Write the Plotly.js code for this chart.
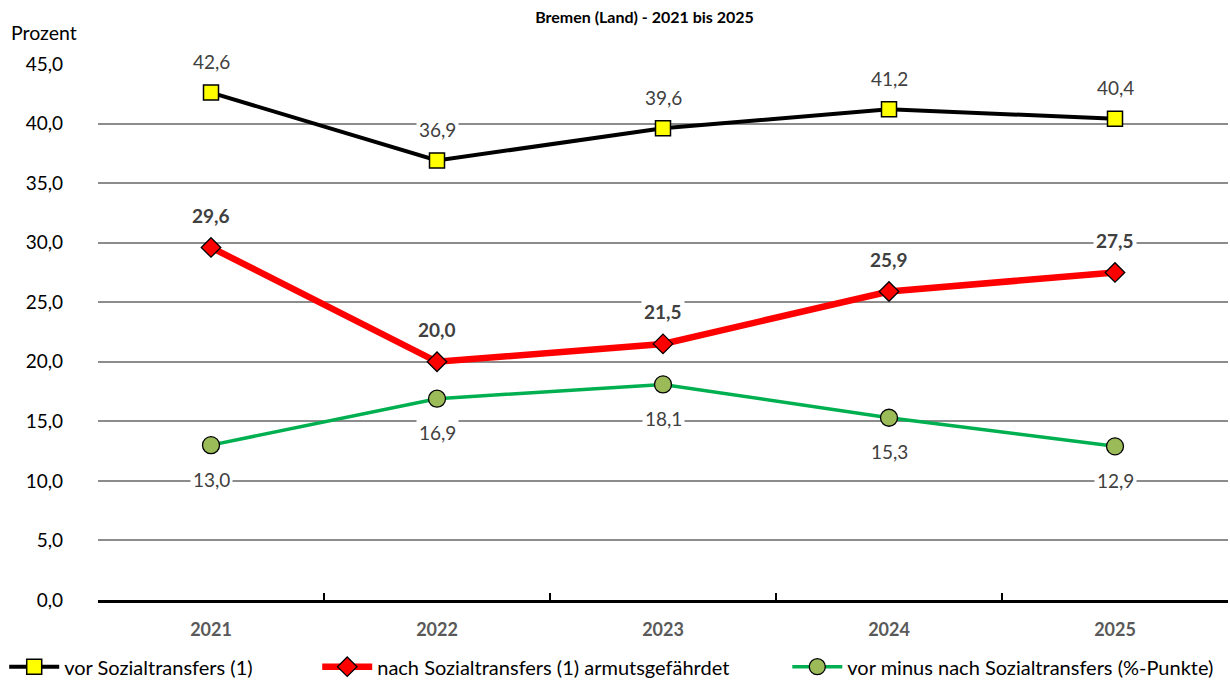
<!DOCTYPE html>
<html><head><meta charset="utf-8">
<script src="https://cdn.plot.ly/plotly-3.0.1.min.js"></script>
<style>body{margin:0;padding:0;background:#fff}#chart{width:1230px;height:681px}</style>
</head><body><div id="chart"></div>
<script>
const years = ['2021','2022','2023','2024','2025'];
const vorSozial = [42.6, 36.9, 39.6, 41.2, 40.4];
const nachSozial = [29.6, 20.0, 21.5, 25.9, 27.5];
const differenz = [13.0, 16.9, 18.1, 15.3, 12.9];
const seriesNames = ['vor Sozialtransfers (1)', 'nach Sozialtransfers (1) armutsgefährdet', 'vor minus nach Sozialtransfers (%-Punkte)'];
const yTicks = [0, 5, 10, 15, 20, 25, 30, 35, 40, 45];

const FONT = 'Lato, "Open Sans", sans-serif';
const fmt = v => v.toFixed(1).replace('.', ',');

const traces = [
  {x: years, y: vorSozial, name: seriesNames[0], type: 'scatter', mode: 'lines+markers', legend: 'legend',
   line: {color: '#000000', width: 4},
   marker: {symbol: 'square', size: 15, color: '#FFFF00', line: {color: '#000000', width: 1.5}}},
  {x: years, y: nachSozial, name: seriesNames[1], type: 'scatter', mode: 'lines+markers', legend: 'legend2',
   line: {color: '#FF0000', width: 6.5},
   marker: {symbol: 'diamond', size: 15, color: '#FF0000', line: {color: '#000000', width: 1.3}}},
  {x: years, y: differenz, name: seriesNames[2], type: 'scatter', mode: 'lines+markers', legend: 'legend3',
   line: {color: '#00B050', width: 3.5},
   marker: {symbol: 'circle', size: 17, color: '#9BBB59', line: {color: '#000000', width: 1.3}}}
];

const annotations = [];
years.forEach((yr, i) => {
  annotations.push({x: i, y: vorSozial[i], text: fmt(vorSozial[i]), showarrow: false, yshift: 31,
    bgcolor: '#ffffff', borderpad: 2, font: {family: FONT, size: 19, color: '#404040'}});
  annotations.push({x: i, y: nachSozial[i], text: '<b>' + fmt(nachSozial[i]) + '</b>', showarrow: false, yshift: 32,
    bgcolor: '#ffffff', borderpad: 2, font: {family: FONT, size: 19, color: '#404040'}});
  annotations.push({x: i, y: differenz[i], text: fmt(differenz[i]), showarrow: false, yshift: -34,
    bgcolor: '#ffffff', borderpad: 2, font: {family: FONT, size: 19, color: '#404040'}});
});
annotations.push({xref: 'paper', yref: 'paper', x: -0.079, y: 1.0, xanchor: 'left', yanchor: 'bottom', yshift: 18,
  text: 'Prozent', showarrow: false, font: {family: FONT, size: 19.5, color: '#000000'}});

const legendBase = {orientation: 'h', xref: 'paper', yref: 'container', yanchor: 'middle', y: 0.021,
  itemwidth: 50, bgcolor: 'rgba(0,0,0,0)', font: {family: FONT, size: 20, color: '#000000'}};

const layout = {
  width: 1230, height: 681,
  margin: {l: 98, r: 2, t: 64, b: 81},
  paper_bgcolor: '#ffffff', plot_bgcolor: '#ffffff',
  separators: ',.',
  showlegend: true,
  title: {text: '<b>Bremen (Land) - 2021 bis 2025</b>', x: 0.524, xanchor: 'center', y: 0.975, yanchor: 'middle',
    font: {family: FONT, size: 16, color: '#000000'}},
  xaxis: {type: 'category', range: [-0.5, 4.5], showgrid: false, zeroline: false,
    showline: true, linecolor: '#000000', linewidth: 3,
    ticks: 'inside', tickson: 'boundaries', ticklen: 7, tickwidth: 2, tickcolor: '#000000',
    tickfont: {family: FONT, size: 18, color: '#595959', weight: 'bold'}, ticklabelstandoff: 11},
  yaxis: {range: [0, 45], tickvals: yTicks, tickformat: '.1f', showgrid: true, gridcolor: '#8c8c8c', gridwidth: 1.5,
    zeroline: false, showline: false, ticks: '', ticklabelstandoff: 34,
    tickfont: {family: FONT, size: 19, color: '#000000'}},
  legend: Object.assign({}, legendBase, {x: -0.083, xanchor: 'left'}),
  legend2: Object.assign({}, legendBase, {x: 0.194, xanchor: 'left'}),
  legend3: Object.assign({}, legendBase, {x: 0.61, xanchor: 'left'}),
  annotations: annotations
};

Plotly.newPlot('chart', traces, layout, {displayModeBar: false, responsive: false});
</script></body></html>
